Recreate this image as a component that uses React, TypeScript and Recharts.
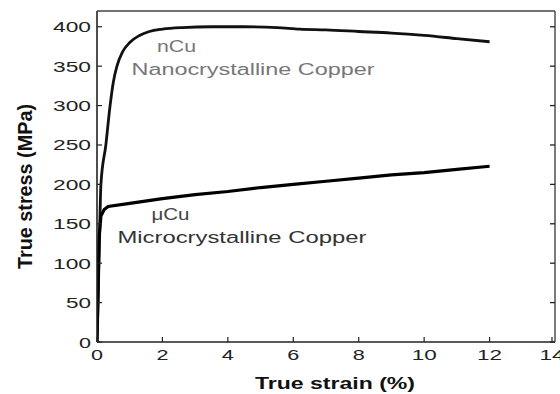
import { LineChart, Line, XAxis, YAxis, ReferenceDot, Label } from "recharts";

// axis ticks
const strainTicks = [0, 2, 4, 6, 8, 10, 12, 14];
const stressTicks = [0, 50, 100, 150, 200, 250, 300, 350, 400];

// nanocrystalline copper (nCu)
const nanoStrain = [0, 0.06, 0.12, 0.27, 0.4, 0.5, 0.61, 0.78, 1.0, 1.3, 1.6, 2.0, 2.6, 3.5, 4.5, 5.5, 6.2, 7, 8, 9, 10, 11, 12];
const nanoStress = [0, 100, 200, 250, 300, 330, 350, 368, 380, 389, 394, 397, 399, 400, 400, 399, 397, 396, 394, 392, 389, 385, 381];

// microcrystalline copper (μCu)
const microStrain = [0, 0.03, 0.06, 0.12, 0.22, 0.34, 1, 2, 3, 4, 5, 6, 7, 8, 9, 10, 11, 12];
const microStress = [0, 60, 130, 160, 168, 172, 176, 182, 187, 191, 196, 200, 204, 208, 212, 215, 219, 223];

const nanoData = nanoStrain.map((strain, i) => ({ strain, stress: nanoStress[i] }));
const microData = microStrain.map((strain, i) => ({ strain, stress: microStress[i] }));

const FONT = '"Liberation Sans", Arial, sans-serif';
const DIGIT_W = 13;
const TICK_LEN = 5;
const LEFT_AXIS_W = 97;
const RIGHT_AXIS_W = 5;

function BottomTick(props: any) {
  const { x, y, payload } = props;
  const s = String(payload.value);
  return (
    <g>
      <line x1={x} y1={y} x2={x} y2={y - TICK_LEN} stroke="#222" strokeWidth={1.2} />
      <text x={x} y={y + 18} textAnchor="middle" fontFamily={FONT} fontSize={15} fill="#222"
        textLength={s.length * DIGIT_W - 1} lengthAdjust="spacingAndGlyphs">{s}</text>
    </g>
  );
}

function LeftTick(props: any) {
  const { x, y, payload } = props;
  const s = String(payload.value);
  return (
    <g>
      <line x1={x} y1={y} x2={x + TICK_LEN} y2={y} stroke="#222" strokeWidth={1.2} />
      <text x={x - 6} y={y + 5.5} textAnchor="end" fontFamily={FONT} fontSize={15} fill="#222"
        textLength={s.length * DIGIT_W - 1} lengthAdjust="spacingAndGlyphs">{s}</text>
    </g>
  );
}

function TopTick(props: any) {
  const { x, y } = props;
  return <line x1={x} y1={y} x2={x} y2={y + TICK_LEN} stroke="#222" strokeWidth={1.3} />;
}

// right-hand ticks; the first one also draws the right and top edges of the box
function RightTick(props: any) {
  const { x, y, index, height } = props;
  const top = y - height;
  return (
    <g>
      <line x1={x} y1={y} x2={x - TICK_LEN} y2={y} stroke="#222" strokeWidth={1.3} />
      {index === 0 && (
        <g stroke="#444" strokeWidth={1.4} fill="none">
          <line x1={x} y1={y} x2={x} y2={top} />
          <line x1={LEFT_AXIS_W} y1={top} x2={x} y2={top} />
        </g>
      )}
    </g>
  );
}

// curve captions, stretched to the wide lettering of the figure
function note(text: string, width: number, color: string) {
  return (props: any) => {
    const { viewBox } = props;
    return (
      <text x={viewBox.x} y={viewBox.y} fontFamily={FONT} fontSize={16} fill={color}
        textLength={width} lengthAdjust="spacingAndGlyphs">{text}</text>
    );
  };
}

export default function App() {
  return (
    <div style={{ position: "absolute", left: 0, top: 0, background: "#fff" }}>
      <LineChart width={560} height={394} margin={{ top: 11, right: 0, left: 0, bottom: 0 }}>
        <XAxis dataKey="strain" type="number" domain={[0, 14]} ticks={strainTicks}
          height={52} tickSize={0} tickMargin={0} tickLine={false} tick={BottomTick}
          axisLine={{ stroke: "#222", strokeWidth: 1.6 }} allowDataOverflow>
          <Label content={(p: any) => {
            const vb = p.viewBox;
            return (
              <text x={vb.x + vb.width / 2 + 9} y={vb.y + 47} textAnchor="middle" fontFamily={FONT}
                fontSize={16} fontWeight="bold" fill="#111" textLength={160}
                lengthAdjust="spacingAndGlyphs">True strain (%)</text>
            );
          }} />
        </XAxis>
        <XAxis xAxisId="top" orientation="top" type="number" domain={[0, 14]} ticks={strainTicks}
          height={0} tickSize={0} tickMargin={0} tickLine={false} tick={TopTick}
          axisLine={false} allowDataOverflow />
        <YAxis type="number" domain={[0, 420]} ticks={stressTicks} width={LEFT_AXIS_W}
          tickSize={0} tickMargin={0} tickLine={false} tick={LeftTick}
          axisLine={{ stroke: "#222", strokeWidth: 1.6 }} allowDataOverflow>
          <Label content={(p: any) => {
            const vb = p.viewBox;
            const cy = vb.y + vb.height / 2 + 10;
            return (
              <text transform={`translate(32, ${cy}) scale(1.3, 1) rotate(-90)`} textAnchor="middle"
                fontFamily={FONT} fontSize={16} fontWeight="bold" fill="#111" textLength={165}
                lengthAdjust="spacingAndGlyphs">True stress (MPa)</text>
            );
          }} />
        </YAxis>
        <YAxis yAxisId="right" orientation="right" type="number" domain={[0, 420]} ticks={stressTicks}
          width={RIGHT_AXIS_W} tickSize={0} tickMargin={0} tickLine={false} tick={RightTick}
          axisLine={false} allowDataOverflow />

        <Line data={nanoData} dataKey="stress" type="monotone" stroke="#111" strokeWidth={2.8}
          dot={false} isAnimationActive={false} />
        <Line data={microData} dataKey="stress" type="linear" stroke="#000" strokeWidth={3.2}
          dot={false} isAnimationActive={false} />

        <ReferenceDot x={1.85} y={367} r={0.5} fill="none" stroke="none" label={note("nCu", 39, "#777")} />
        <ReferenceDot x={1.07} y={338} r={0.5} fill="none" stroke="none"
          label={note("Nanocrystalline Copper", 243, "#777")} />
        <ReferenceDot x={1.68} y={154} r={0.5} fill="none" stroke="none" label={note("μCu", 38, "#444")} />
        <ReferenceDot x={0.64} y={125} r={0.5} fill="none" stroke="none"
          label={note("Microcrystalline Copper", 249, "#333")} />
      </LineChart>
    </div>
  );
}
